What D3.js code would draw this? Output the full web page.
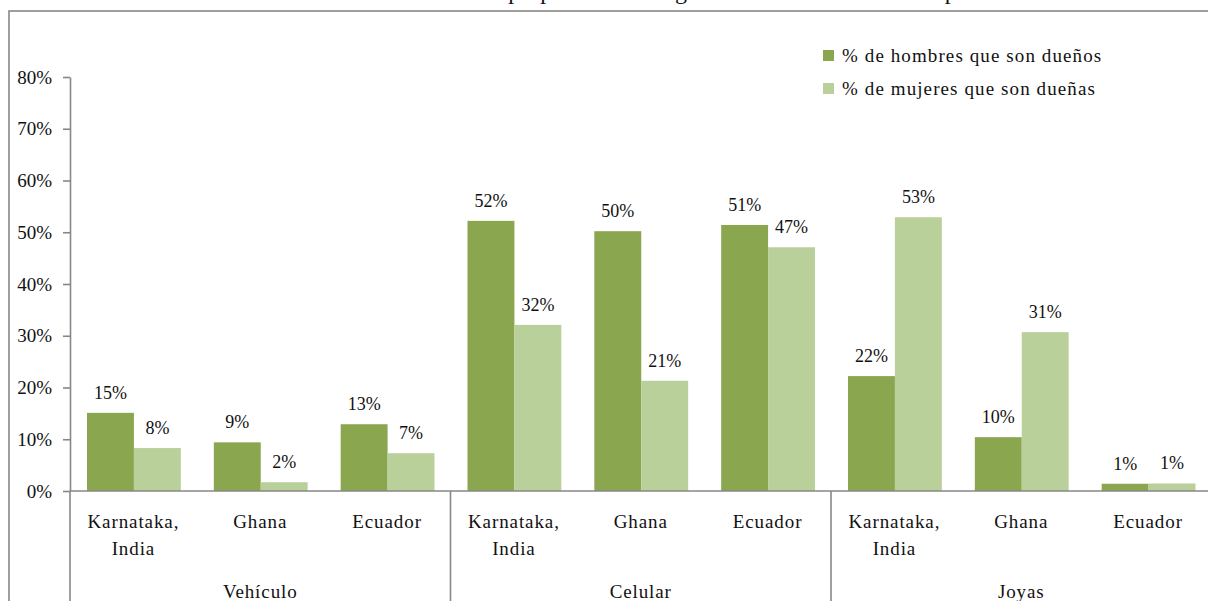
<!DOCTYPE html>
<html>
<head>
<meta charset="utf-8">
<script src="https://cdn.jsdelivr.net/npm/d3@7"></script>
<style>
  body { margin: 0; background: #fff; }
</style>
</head>
<body>
<svg id="chart" width="1208" height="601"></svg>
<script>
// data
var groups = ["Vehículo", "Celular", "Joyas"];
var places = ["Karnataka, India", "Ghana", "Ecuador"];
var series = ["% de hombres que son dueños", "% de mujeres que son dueñas"];
var hombres = [15.1, 9.4, 12.9,  52.2, 50.2, 51.4,  22.2, 10.4, 1.4];
var mujeres = [8.3, 1.7, 7.3,   32.1, 21.3, 47.1,  52.9, 30.7, 1.45];
var yTicks = [0, 10, 20, 30, 40, 50, 60, 70, 80];
var colors = ["#8aa64f", "#bad09b"];
var title = "Tasa de propietarios de algunos bienes seleccionados por sexo";

var FONT = "'Liberation Serif', 'Times New Roman', serif";

var svg = d3.select("#chart")
    .attr("font-family", FONT)
    .attr("fill", "#111"),
    axisCol = "#878787",
    x0 = 70, x1 = 1211.5,
    yTop = 77, yBot = 491;

// outer chart frame (runs off the right and bottom edges)
svg.append("rect")
  .attr("x", 9).attr("y", 11)
  .attr("width", 1300).attr("height", 700)
  .attr("fill", "none").attr("stroke", axisCol).attr("stroke-width", 1.6);

// title sits above the frame, mostly cut off
svg.append("text")
  .attr("x", 430).attr("y", -1)
  .attr("font-size", 24)
  .text(title);

var y = d3.scaleLinear().domain([0, 80]).range([yBot, yTop]);

var gx = d3.scaleBand().domain(groups).range([x0, x1]);
var cx = d3.scaleBand().domain(places).range([0, gx.bandwidth()]);
var sx = d3.scaleBand().domain(series).range([17, cx.bandwidth() - 16]);

var data = [];
groups.forEach(function(g, gi) {
  places.forEach(function(p, pi) {
    var i = gi * 3 + pi;
    data.push({g: g, p: p, s: series[0], v: hombres[i], c: colors[0]});
    data.push({g: g, p: p, s: series[1], v: mujeres[i], c: colors[1]});
  });
});
function bx(d) { return gx(d.g) + cx(d.p) + sx(d.s); }

// y axis
var yAxis = d3.axisLeft(y).tickValues(yTicks)
  .tickFormat(function(d) { return d + "%"; })
  .tickSize(7).tickSizeOuter(0).tickPadding(11);
var ya = svg.append("g").attr("transform", "translate(" + x0 + ",0)").call(yAxis)
  .attr("font-family", FONT).attr("font-size", 19);
ya.select(".domain").attr("stroke", axisCol).attr("stroke-width", 1.6);
ya.selectAll(".tick line").attr("stroke", axisCol).attr("stroke-width", 1.6);
ya.selectAll(".tick text").attr("fill", "#111");

// bars
svg.selectAll("rect.bar")
  .data(data)
  .enter().append("rect")
    .attr("class", "bar")
    .attr("x", bx)
    .attr("y", function(d) { return y(d.v); })
    .attr("width", sx.bandwidth())
    .attr("height", function(d) { return y(0) - y(d.v); })
    .attr("fill", function(d) { return d.c; });

// value labels
svg.selectAll("text.val")
  .data(data)
  .enter().append("text")
    .attr("class", "val")
    .attr("x", function(d) { return bx(d) + sx.bandwidth() / 2; })
    .attr("y", function(d) { return y(d.v) - 14; })
    .attr("text-anchor", "middle")
    .attr("font-size", 18)
    .text(function(d) { return Math.round(d.v) + "%"; });

// x axis baseline and group separators
svg.append("line")
  .attr("x1", x0).attr("x2", x1)
  .attr("y1", yBot).attr("y2", yBot)
  .attr("stroke", axisCol).attr("stroke-width", 1.6);
svg.selectAll("line.sep")
  .data(groups.concat(["end"]))
  .enter().append("line")
    .attr("class", "sep")
    .attr("x1", function(d, i) { return x0 + i * gx.bandwidth(); })
    .attr("x2", function(d, i) { return x0 + i * gx.bandwidth(); })
    .attr("y1", yBot).attr("y2", 620)
    .attr("stroke", axisCol).attr("stroke-width", 1.6);

// category labels
groups.forEach(function(g) {
  places.forEach(function(p) {
    var cxm = gx(g) + cx(p) + cx.bandwidth() / 2;
    var lines = p.indexOf(",") > 0 ? [p.split(",")[0] + ",", p.split(",")[1].trim()] : [p];
    var t = svg.append("text")
      .attr("x", cxm).attr("y", 528)
      .attr("text-anchor", "middle")
      .attr("font-size", 19).attr("letter-spacing", 0.9);
    lines.forEach(function(l, li) {
      t.append("tspan").attr("x", cxm).attr("dy", li ? 27 : 0).text(l);
    });
  });
  svg.append("text")
    .attr("x", gx(g) + gx.bandwidth() / 2).attr("y", 598)
    .attr("text-anchor", "middle")
    .attr("font-size", 19).attr("letter-spacing", 0.9)
    .text(g);
});

// legend
var lg = svg.selectAll("g.leg")
  .data(series)
  .enter().append("g")
    .attr("class", "leg")
    .attr("transform", function(d, i) { return "translate(823," + (50 + i * 33) + ")"; });
lg.append("rect").attr("width", 11).attr("height", 11)
  .attr("fill", function(d, i) { return colors[i]; });
lg.append("text").attr("x", 19).attr("y", 12)
  .attr("font-size", 19).attr("letter-spacing", 1.1)
  .text(function(d) { return d; });
</script>
</body>
</html>
